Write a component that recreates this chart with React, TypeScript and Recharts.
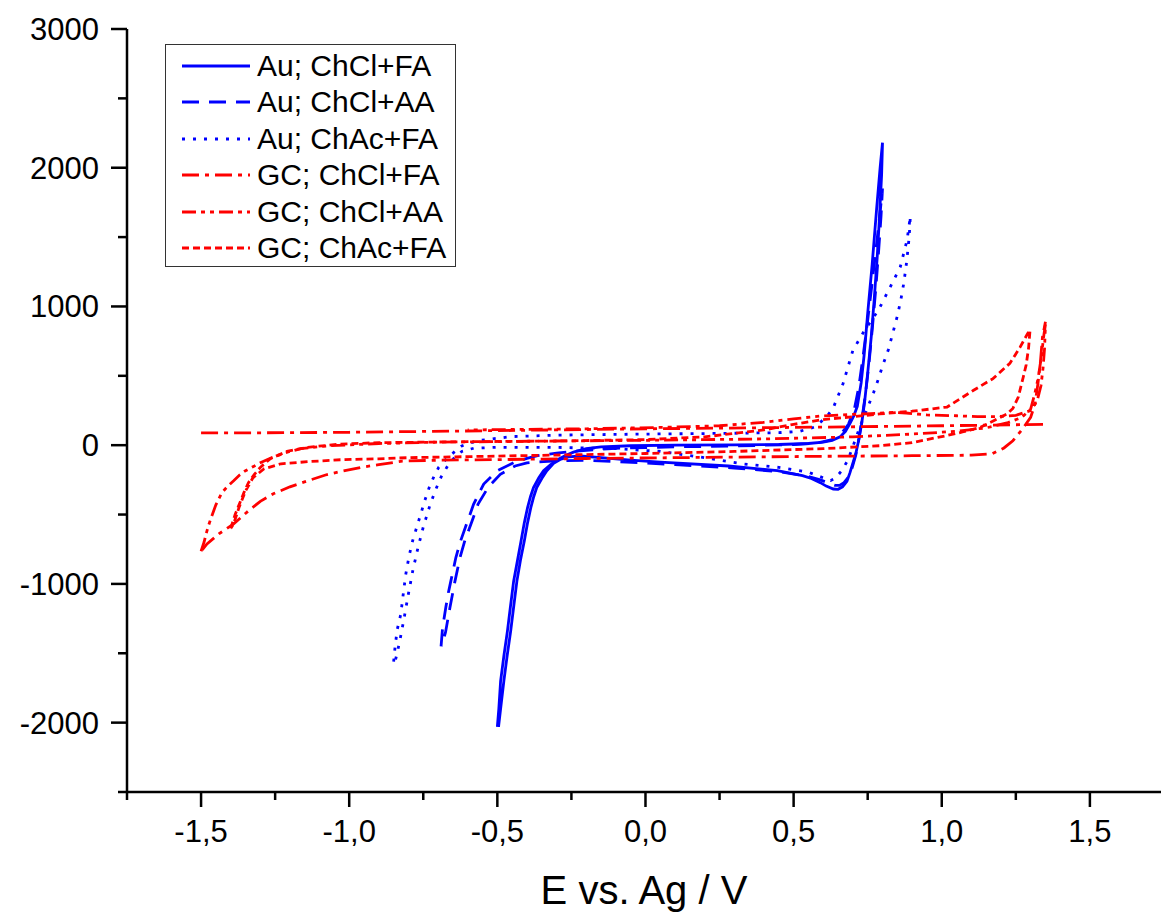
import React from 'react';
import { LineChart, Line, XAxis, YAxis, Legend } from 'recharts';

type P = [number, number];

const FONT = '"Liberation Sans", Arial, Helvetica, sans-serif';
const BLUE = '#0000ff';
const RED = '#ff0000';

// ---- axis ticks ----
const xTicks = [-1.75, -1.5, -1.25, -1, -0.75, -0.5, -0.25, 0, 0.25, 0.5, 0.75, 1, 1.25, 1.5];
const yTicks = [-2500, -2000, -1500, -1000, -500, 0, 500, 1000, 1500, 2000, 2500, 3000];
const xDomain = [-1.75, 1.74];
const yDomain = [-2500, 3000];

// ---- Au; ChCl+FA (solid) ----
const auChClFA_anodic: P[] = [
  [-0.5, -2030], [-0.495, -1900], [-0.489, -1700], [-0.478, -1520], [-0.466, -1340], [-0.455, -1150],
  [-0.445, -980], [-0.432, -830], [-0.42, -690], [-0.409, -560], [-0.398, -450], [-0.388, -370],
  [-0.378, -305], [-0.36, -235], [-0.344, -184], [-0.32, -140], [-0.297, -105], [-0.27, -75],
  [-0.243, -50], [-0.2, -25], [-0.15, -12], [-0.05, -4], [0.1, 0], [0.3, 2], [0.45, 5], [0.55, 12],
  [0.6, 22], [0.63, 35], [0.657, 60], [0.675, 100], [0.69, 155], [0.703, 210], [0.715, 280],
  [0.728, 450], [0.738, 650], [0.75, 950], [0.765, 1300], [0.78, 1700], [0.792, 2000], [0.8, 2180],
];
const auChClFA_cathodic: P[] = [
  [0.8, 2180], [0.797, 1950], [0.79, 1650], [0.782, 1350], [0.772, 1050], [0.762, 780], [0.75, 520],
  [0.74, 320], [0.73, 160], [0.72, 40], [0.71, -60], [0.7, -130], [0.69, -200], [0.68, -260],
  [0.665, -300], [0.65, -318], [0.634, -316], [0.61, -295], [0.59, -270], [0.56, -240], [0.53, -220],
  [0.445, -184], [0.28, -150], [0.05, -122], [-0.05, -108], [-0.15, -90], [-0.22, -78], [-0.26, -85],
  [-0.285, -100], [-0.31, -130], [-0.333, -184], [-0.35, -240], [-0.367, -305], [-0.377, -370],
  [-0.387, -450], [-0.398, -560], [-0.409, -690], [-0.422, -830], [-0.434, -980], [-0.444, -1150],
  [-0.455, -1340], [-0.467, -1520], [-0.478, -1700], [-0.489, -1900], [-0.496, -2030],
];

// ---- Au; ChCl+AA (dashed) ----
const auChClAA_anodic: P[] = [
  [-0.69, -1450], [-0.685, -1320], [-0.674, -1170], [-0.665, -1060], [-0.657, -980], [-0.64, -810],
  [-0.624, -690], [-0.6, -545], [-0.58, -425], [-0.546, -280], [-0.5, -184], [-0.445, -126],
  [-0.4, -95], [-0.364, -76], [-0.3, -58], [-0.22, -40], [-0.1, -22], [0.1, -12], [0.3, -6],
  [0.5, 5], [0.58, 15], [0.63, 40], [0.66, 80], [0.685, 150], [0.705, 260], [0.72, 420],
  [0.735, 650], [0.75, 900], [0.765, 1170], [0.78, 1450], [0.792, 1680], [0.8, 1850],
];
const auChClAA_cathodic: P[] = [
  [0.8, 1850], [0.795, 1650], [0.787, 1400], [0.777, 1120], [0.766, 850], [0.754, 580], [0.742, 360],
  [0.73, 180], [0.72, 40], [0.71, -70], [0.698, -160], [0.685, -230], [0.67, -270], [0.655, -290],
  [0.64, -290], [0.62, -275], [0.59, -250], [0.55, -225], [0.45, -190], [0.3, -165], [0.1, -140],
  [0, -128], [-0.1, -118], [-0.2, -110], [-0.3, -112], [-0.36, -120], [-0.4, -128], [-0.44, -150],
  [-0.49, -210], [-0.53, -300], [-0.565, -425], [-0.585, -545], [-0.61, -690], [-0.626, -810],
  [-0.643, -980], [-0.66, -1170], [-0.675, -1350], [-0.688, -1450],
];

// ---- Au; ChAc+FA (dotted) ----
const auChAcFA_anodic: P[] = [
  [-0.85, -1560], [-0.845, -1450], [-0.838, -1330], [-0.826, -1220], [-0.818, -1080], [-0.809, -930],
  [-0.798, -800], [-0.786, -690], [-0.772, -590], [-0.759, -500], [-0.745, -400], [-0.73, -305],
  [-0.714, -225], [-0.698, -160], [-0.677, -110], [-0.657, -70], [-0.637, -35], [-0.62, -5],
  [-0.595, 15], [-0.566, 32], [-0.5, 50], [-0.45, 62], [-0.3, 72], [-0.1, 78], [0.1, 82], [0.3, 86],
  [0.45, 90], [0.52, 100], [0.57, 130], [0.61, 200], [0.634, 270], [0.667, 445], [0.7, 683],
  [0.74, 830], [0.786, 972], [0.826, 1140], [0.86, 1285], [0.883, 1480], [0.894, 1650],
];
const auChAcFA_cathodic: P[] = [
  [0.894, 1650], [0.89, 1500], [0.882, 1330], [0.872, 1170], [0.862, 1050], [0.85, 930], [0.835, 810],
  [0.82, 690], [0.8, 570], [0.785, 470], [0.77, 380], [0.755, 300], [0.74, 220], [0.725, 140],
  [0.71, 50], [0.695, -40], [0.68, -120], [0.66, -190], [0.64, -240], [0.625, -255], [0.6, -235],
  [0.55, -195], [0.45, -160], [0.33, -135], [0.2, -90], [0.05, -45], [-0.1, -25], [-0.3, -16],
  [-0.5, -15], [-0.58, -22], [-0.62, -45], [-0.645, -90], [-0.668, -150], [-0.69, -230], [-0.71, -330],
  [-0.73, -450], [-0.75, -590], [-0.768, -740], [-0.785, -900], [-0.8, -1070], [-0.815, -1250],
  [-0.83, -1420], [-0.845, -1560],
];

// ---- GC; ChCl+FA (dash-dot) ----
const gcChClFA_upper: P[] = [
  [-1.5, 88], [-1.2, 90], [-1.0, 93], [-0.5, 105], [0, 118], [0.5, 128], [1.0, 140], [1.35, 150],
];
const gcChClFA_lower: P[] = [
  [-1.496, -755], [-1.48, -712], [-1.44, -640], [-1.39, -567], [-1.34, -473], [-1.3, -405],
  [-1.256, -350], [-1.2, -300], [-1.14, -257], [-1.08, -215], [-1.03, -190], [-0.96, -160],
  [-0.9, -140], [-0.82, -115], [-0.7, -108], [-0.5, -104], [-0.2, -96], [0.2, -88], [0.6, -80],
  [0.9, -76], [1.1, -72], [1.17, -62], [1.21, -20], [1.24, 32], [1.27, 110], [1.3, 200],
  [1.315, 300], [1.325, 450], [1.333, 600], [1.34, 780], [1.35, 890],
];

// ---- GC; ChCl+AA (dash-dot-dot) ----
const gcChClAA_anodic: P[] = [
  [-1.5, -765], [-1.49, -700], [-1.483, -640], [-1.475, -580], [-1.466, -523], [-1.45, -430],
  [-1.43, -343], [-1.41, -295], [-1.39, -257], [-1.37, -215], [-1.35, -184], [-1.32, -150],
  [-1.3, -126], [-1.27, -98], [-1.244, -76], [-1.2, -45], [-1.163, -25], [-1.1, -10], [-1.062, -4],
  [-0.9, 12], [-0.7, 22], [-0.3, 30], [0, 35], [0.4, 45], [0.7, 60], [0.9, 80], [1.05, 100],
  [1.15, 125], [1.22, 160], [1.27, 200], [1.3, 260], [1.315, 380], [1.325, 480], [1.335, 620],
  [1.345, 800], [1.35, 870],
];
const gcChClAA_cathodic: P[] = [
  [1.35, 870], [1.347, 700], [1.342, 560], [1.335, 430], [1.322, 320], [1.3, 250], [1.25, 215],
  [1.19, 206], [1.12, 206], [1.05, 212], [0.95, 218], [0.88, 232], [0.836, 236], [0.76, 228],
  [0.68, 220], [0.59, 210], [0.5, 190], [0.4, 165], [0.25, 140], [0.05, 128], [-0.2, 118],
  [-0.6, 110],
];

// ---- GC; ChAc+FA (short dash) ----
const gcChAcFA_anodic: P[] = [
  [-1.4, -600], [-1.385, -500], [-1.37, -420], [-1.355, -340], [-1.34, -270], [-1.32, -210],
  [-1.3, -160], [-1.265, -95], [-1.21, -45], [-1.14, -15], [-1.03, 8], [-0.9, 18], [-0.6, 25],
  [-0.3, 30], [0, 40], [0.2, 60], [0.4, 110], [0.5, 150], [0.6, 185], [0.7, 205], [0.79, 225],
  [0.9, 245], [1.018, 275], [1.106, 394], [1.173, 480], [1.23, 590], [1.264, 705], [1.29, 805],
  [1.298, 830],
];
const gcChAcFA_cathodic: P[] = [
  [1.298, 830], [1.293, 700], [1.285, 580], [1.275, 490], [1.258, 345], [1.24, 265], [1.22, 225],
  [1.197, 200], [1.13, 128], [1.07, 95], [1.018, 70], [0.9, 18], [0.79, -4], [0.6, -25], [0.3, -45],
  [0, -60], [-0.4, -75], [-0.8, -90], [-0.9, -98], [-1.03, -105], [-1.14, -119], [-1.23, -134],
  [-1.287, -170], [-1.325, -235], [-1.35, -330], [-1.372, -450], [-1.39, -567], [-1.4, -600],
];

type Row = { x: number; y: number | null };

// joins branches of one sweep; a gap is inserted after the listed segments
function toRows(segments: P[][], gapAfter: number[] = []): Row[] {
  const out: Row[] = [];
  segments.forEach((seg, i) => {
    seg.forEach(([x, y]) => out.push({ x, y }));
    if (gapAfter.includes(i)) out.push({ x: seg[seg.length - 1][0], y: null });
  });
  return out;
}

const series = [
  { name: 'Au; ChCl+FA', color: BLUE, dash: undefined as string | undefined, data: toRows([auChClFA_anodic, auChClFA_cathodic]) },
  { name: 'Au; ChCl+AA', color: BLUE, dash: '17 10', data: toRows([auChClAA_anodic, auChClAA_cathodic]) },
  { name: 'Au; ChAc+FA', color: BLUE, dash: '3 8', data: toRows([auChAcFA_anodic, auChAcFA_cathodic]) },
  { name: 'GC; ChCl+FA', color: RED, dash: '17 6 4 6', data: toRows([gcChClFA_upper, gcChClFA_lower], [0]) },
  { name: 'GC; ChCl+AA', color: RED, dash: '14 5 4 5 4 5', data: toRows([gcChClAA_anodic, gcChClAA_cathodic]) },
  { name: 'GC; ChAc+FA', color: RED, dash: '7 4', data: toRows([gcChAcFA_anodic, gcChAcFA_cathodic]) },
];

const fmtX = (v: number) => v.toFixed(1).replace('.', ',');
const isMajorX = (v: number) => Math.abs(v * 2 - Math.round(v * 2)) < 1e-6;
const isMajorY = (v: number) => Math.abs(v / 1000 - Math.round(v / 1000)) < 1e-6;

const XTick = (props: any) => {
  const { x, y, payload } = props;
  const v = payload.value as number;
  const major = isMajorX(v);
  return (
    <g>
      <line x1={x} x2={x} y1={y} y2={y + (major ? 15 : 8)} stroke="#000" strokeWidth={2.5} />
      {major && (
        <text x={x} y={y + 50} textAnchor="middle" fontSize={31} fontFamily={FONT} fill="#000">
          {fmtX(v)}
        </text>
      )}
    </g>
  );
};

const YTick = (props: any) => {
  const { x, y, payload } = props;
  const v = payload.value as number;
  const major = isMajorY(v);
  return (
    <g>
      <line x1={x - (major ? 16 : 9)} x2={x} y1={y} y2={y} stroke="#000" strokeWidth={2.5} />
      {major && (
        <text x={x - 28} y={y + 11} textAnchor="end" fontSize={31} fontFamily={FONT} fill="#000">
          {String(v)}
        </text>
      )}
    </g>
  );
};

const LegendBox = () => (
  <div
    style={{
      width: 291,
      height: 223,
      border: '1.5px solid #333',
      boxSizing: 'border-box',
      background: '#fff',
      position: 'relative',
    }}
  >
    {series.map((s, i) => (
      <div
        key={s.name}
        style={{
          position: 'absolute',
          left: 0,
          top: 21 + i * 36.4 - 18,
          height: 36,
          display: 'flex',
          alignItems: 'center',
          whiteSpace: 'nowrap',
        }}
      >
        <svg width={84} height={36} style={{ display: 'block' }}>
          <line x1={16} x2={84} y1={18} y2={18} stroke={s.color} strokeWidth={3} strokeDasharray={s.dash} />
        </svg>
        <span style={{ marginLeft: 7, fontSize: 30, fontFamily: FONT, lineHeight: '36px', color: '#000' }}>
          {s.name}
        </span>
      </div>
    ))}
  </div>
);

export default function App() {
  return (
    <div style={{ position: 'absolute', left: 0, top: 0, width: 1161, height: 915, background: '#fff' }}>
      <LineChart width={1161} height={915} margin={{ top: 29, right: 0, bottom: 0, left: 0 }}>
        <XAxis
          dataKey="x"
          type="number"
          domain={xDomain}
          allowDataOverflow
          ticks={xTicks}
          interval={0}
          tick={<XTick />}
          tickLine={false}
          tickSize={0}
          tickMargin={0}
          height={123}
          axisLine={{ stroke: '#000', strokeWidth: 2.5 }}
          label={{
            value: 'E vs. Ag / V',
            position: 'insideBottom',
            offset: 11,
            fontSize: 40,
            fill: '#000',
            fontFamily: FONT,
          }}
        />
        <YAxis
          type="number"
          domain={yDomain}
          allowDataOverflow
          ticks={yTicks}
          interval={0}
          tick={<YTick />}
          tickLine={false}
          tickSize={0}
          tickMargin={0}
          width={127}
          axisLine={{ stroke: '#000', strokeWidth: 2.5 }}
        />
        {series.map((s) => (
          <Line
            key={s.name}
            name={s.name}
            data={s.data}
            dataKey="y"
            type="linear"
            stroke={s.color}
            strokeWidth={2.8}
            strokeDasharray={s.dash}
            dot={false}
            activeDot={false}
            connectNulls={false}
            isAnimationActive={false}
          />
        ))}
        <Legend
          layout="horizontal"
          verticalAlign="middle"
          align="center"
          content={() => <LegendBox />}
          wrapperStyle={{ left: 165, top: 44, width: 291, height: 223 }}
        />
      </LineChart>
    </div>
  );
}
